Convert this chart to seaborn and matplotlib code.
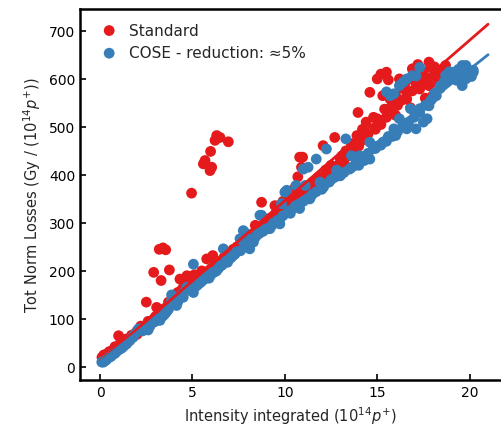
import numpy as np
import pandas as pd
import matplotlib
matplotlib.use("Agg")
import matplotlib.pyplot as plt
import seaborn as sns

# ---- data ----
std_x = [0.1, 0.4, 0.7, 1.0, 1.2, 1.6, 2.0, 2.3, 2.5, 2.7, 2.9, 3.0, 3.06, 3.2, 3.3, 3.4, 3.55, 3.75,
         3.8, 4.1, 4.32, 4.5, 4.7, 4.9, 4.95, 5.1, 5.3, 5.5, 5.59, 5.68, 5.77, 5.95, 5.98, 6.04, 6.1,
         6.22, 6.31, 6.49, 6.94, 6.3, 6.6, 6.85, 7.1, 7.4, 7.7, 8.1, 8.47, 8.74, 8.9, 9.2, 9.46, 9.73,
         9.9, 10.2, 10.5, 10.7, 10.8, 10.9, 10.96, 11.2, 11.5, 11.8, 12.07, 12.2, 12.5, 12.7, 13.0,
         13.3, 13.6, 13.9, 13.96, 14.2, 14.4, 14.6, 14.8, 15.0, 15.0, 15.2, 15.4, 15.5, 15.6, 15.7,
         15.3, 16.0, 16.0, 16.2, 16.4, 16.6, 16.9, 17.0, 17.3, 17.5, 17.8, 17.8, 18.0, 18.1, 18.4,
         18.7, 16.8, 17.6, 18.3, 14.0, 12.9, 11.0, 9.5, 8.4, 7.8, 7.2, 6.7, 18.5, 17.2, 16.5, 15.8,
         0.2, 0.5, 0.8, 1.1, 1.4, 1.7, 2.0, 2.2, 2.6, 2.9, 3.2, 3.5, 3.7, 4.0, 4.2, 4.4, 4.6, 4.8,
         5.0, 5.2, 5.4, 5.7, 6.0, 6.2, 6.5, 6.8, 7.0, 7.3, 7.5, 7.9, 8.2, 8.6, 8.8, 9.0, 9.3, 9.6,
         9.8, 10.0, 10.3, 10.6, 10.9, 11.3, 11.6, 11.9, 12.3, 12.6, 12.9, 13.2, 13.5, 13.8, 14.1,
         14.5, 14.9, 15.2, 15.5, 15.8, 16.1, 16.3, 16.6, 16.9, 17.1, 17.4, 17.7, 18.0, 18.3, 18.6,
         17.9, 17.2, 16.7, 14.3, 13.1, 12.0]
std_y = [20, 28, 35, 65, 45, 55, 68, 80, 135, 90, 197, 105, 124, 245, 180, 248, 244, 202,
         130, 150, 183, 165, 190, 188, 362, 192, 185, 200, 423, 430, 225, 409, 449, 416, 232,
         472, 482, 478, 469, 210, 222, 232, 240, 250, 262, 270, 280, 343, 300, 310, 336, 336,
         345, 352, 371, 396, 437, 416, 437, 371, 385, 395, 461, 410, 420, 478, 433,
         450, 465, 482, 530, 495, 510, 572, 520, 517, 600, 610, 537, 614, 598, 558,
         565, 565, 524, 600, 580, 558, 621, 600, 579, 615, 635, 586, 565, 625, 607,
         628, 540, 560, 590, 460, 420, 360, 320, 295, 258, 245, 228, 615, 630, 590, 545,
         25, 32, 42, 50, 58, 66, 75, 85, 95, 100, 112, 122, 135, 142, 155, 160, 170, 178,
         182, 180, 190, 198, 205, 212, 215, 225, 232, 238, 245, 255, 265, 278, 290, 295, 305, 318,
         330, 335, 345, 352, 360, 368, 378, 388, 398, 408, 415, 425, 440, 450, 470,
         485, 495, 505, 520, 535, 545, 555, 570, 575, 590, 595, 600, 605, 615, 620,
         625, 612, 600, 475, 440, 395]

cose_x = [0.09, 0.18, 0.27, 0.5, 0.72, 0.9, 1.08, 1.3, 1.44, 1.7, 1.9, 2.07, 2.16, 2.4, 2.6, 2.88,
          3.0, 3.15, 3.24, 3.5, 3.7, 3.87, 3.87, 4.0, 4.14, 4.4, 4.69, 4.8, 5.05, 5.05, 5.23, 5.4,
          5.6, 5.77, 5.9, 6.1, 6.3, 6.5, 6.67, 6.8, 7.0, 7.2, 7.4, 7.57, 7.75, 7.84, 7.93, 8.1, 8.3,
          8.5, 8.65, 8.74, 8.9, 9.19, 9.4, 9.73, 9.73, 9.82, 10.0, 10.09, 10.1, 10.3, 10.6, 10.6,
          10.8, 11.0, 11.1, 11.2, 11.26, 11.35, 11.5, 11.7, 11.9, 12.0, 12.25, 12.4, 12.7, 13.0,
          13.3, 13.5, 13.8, 14.05, 14.3, 14.6, 14.6, 14.8, 15.0, 15.3, 15.5, 15.7, 15.6, 15.9, 15.9,
          16.0, 16.2, 16.2, 16.4, 16.6, 16.6, 16.8, 16.9, 17.1, 17.1, 17.3, 17.3, 17.5, 17.7, 17.8,
          18.0, 18.2, 18.4, 18.6, 18.7, 19.0, 19.1, 19.3, 19.3, 19.6, 19.6, 19.8, 19.8, 20.0, 20.2,
          20.2, 13.6, 12.8, 14.0,
          0.35, 0.6, 0.8, 1.2, 1.6, 1.8, 2.3, 2.7, 3.1, 3.4, 3.6, 4.2, 4.5, 4.6, 4.9, 5.3, 5.5, 5.8,
          6.0, 6.2, 6.4, 6.6, 6.9, 7.1, 7.3, 7.6, 7.8, 8.0, 8.2, 8.4, 8.6, 8.8, 9.0, 9.3, 9.6, 9.9,
          10.2, 10.5, 10.8, 11.0, 11.4, 11.7, 12.1, 12.5, 12.9, 13.2, 13.6, 13.9, 14.2, 14.5, 14.9,
          15.2, 15.5, 15.8, 16.1, 16.4, 16.7, 17.0, 17.3, 17.6, 17.9, 18.1, 18.4, 18.8, 19.2, 19.5,
          19.9, 20.1, 18.9, 19.4]
cose_y = [10, 10, 13, 20, 27, 32, 37, 44, 48, 60, 70, 79, 79, 78, 77, 93,
          95, 100, 97, 110, 120, 138, 150, 145, 128, 150, 166, 160, 155, 214, 169, 175,
          182, 190, 185, 197, 200, 210, 246, 220, 225, 232, 240, 267, 284, 280, 253, 246, 260,
          275, 316, 316, 285, 288, 300, 298, 308, 340, 364, 365, 368, 320, 336, 378,
          330, 412, 378, 350, 416, 350, 360, 433, 385, 370, 454, 385, 395, 398,
          475, 412, 420, 440, 430, 433, 468, 455, 460, 468, 573, 565, 480, 496, 569,
          482, 517, 586, 593, 496, 600, 538, 607, 496, 606, 538, 624, 510, 517, 544,
          560, 565, 580, 593, 607, 605, 614, 597, 600, 586, 628, 600, 628, 610, 614,
          618, 440, 410, 420,
          15, 22, 28, 40, 55, 62, 75, 85, 98, 106, 115, 135, 145, 158, 162, 172, 178, 185,
          192, 198, 205, 212, 218, 228, 235, 242, 250, 258, 265, 270, 278, 282, 288, 295, 305, 315,
          325, 332, 340, 345, 355, 365, 375, 390, 400, 405, 415, 425, 435, 445, 455,
          462, 470, 480, 490, 500, 510, 520, 530, 545, 555, 570, 585, 598, 608, 612,
          615, 605, 615, 620]

labels = ["Standard", "COSE - reduction: ≈5%"]
colors = ["#e41a1c", "#377eb8"]
fit_range = [0, 21]


def robust_line(xs, ys, n_iter=3, clip=3.0):
    """Linear least-squares fit with iterative sigma clipping of outliers."""
    x = np.asarray(xs, float)
    y = np.asarray(ys, float)
    mask = np.ones_like(x, dtype=bool)
    for _ in range(n_iter):
        k, b = np.polyfit(x[mask], y[mask], 1)
        r = y - (k * x + b)
        mask = np.abs(r) < clip * np.std(r[mask])
    return np.polyfit(x[mask], y[mask], 1)


# ---- plot ----
sns.set_theme(style="ticks")
plt.rcParams["font.family"] = ["DejaVu Sans"]

fig = plt.figure(figsize=(5.01, 4.27), dpi=100)
ax = fig.add_axes([0.16, 0.108, 0.84, 0.869])

series = [(std_x, std_y), (cose_x, cose_y)]
for (xs, ys), lab, col in zip(series, labels, colors):
    df = pd.DataFrame({"x": xs, "y": ys})
    sns.scatterplot(data=df, x="x", y="y", ax=ax, color=col, s=60,
                    edgecolor="none", label=lab, zorder=2)
    k, b = robust_line(xs, ys)
    fx = np.array(fit_range, dtype=float)
    ax.plot(fx, k * fx + b, color=col, lw=2, zorder=3)

ax.set_xlim(-1.08, 21.7)
ax.set_ylim(-27, 746)
ax.set_xticks([0, 5, 10, 15, 20])
ax.set_yticks([0, 100, 200, 300, 400, 500, 600, 700])
ax.tick_params(direction="in", length=4, width=1.2, labelsize=10, colors="black",
               top=False, right=False)
for s in ["left", "bottom", "top"]:
    ax.spines[s].set_linewidth(1.8)
    ax.spines[s].set_color("black")
ax.spines["right"].set_visible(False)

ax.set_xlabel("Intensity integrated (10$^{14}p^{+}$)", fontsize=10.5)
ax.set_ylabel("Tot Norm Losses (Gy / (10$^{14}p^{+}$))", fontsize=10.5)

leg = ax.legend(loc="upper left", frameon=False, fontsize=11, handletextpad=0.3,
                borderaxespad=0.5, markerscale=1.0)

fig.savefig("out.png", dpi=100)
